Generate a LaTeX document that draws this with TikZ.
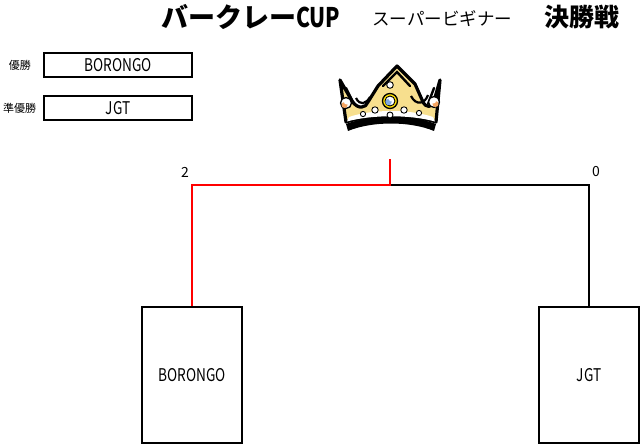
\documentclass[tikz,border=0pt]{standalone}
\usepackage{fontspec}
\setmainfont{Noto Sans CJK JP}
\newfontfamily\narrowfont[FakeStretch=0.78]{Noto Sans CJK JP}
\usepackage{graphicx}
\definecolor{crowngold}{HTML}{F7DF8E}
\definecolor{orbor}{HTML}{F4A460}
\definecolor{gemblue}{HTML}{7FA8E0}
\tikzset{
  teambox/.style={draw, line width=2pt, minimum width=100pt, minimum height=136pt, inner sep=0pt, font=\narrowfont\fontsize{17.5}{17.5}\selectfont},
  resbox/.style={draw, line width=1.6pt, minimum width=148pt, minimum height=24pt, inner sep=0pt, font=\narrowfont\fontsize{17.5}{17.5}\selectfont},
  reslabel/.style={font=\fontsize{11}{11}\selectfont, inner sep=0pt},
  bline/.style={line width=2pt},
  winline/.style={line width=2pt, red},
  score/.style={font=\fontsize{14}{14}\selectfont, inner sep=0pt},
  pearl/.style={fill=white, draw=black, line width=0.9pt}
}
\begin{document}
\begin{tikzpicture}[x=1pt,y=-1pt]
\useasboundingbox (0,0) rectangle (641,444);
% titles
\node[anchor=west, inner sep=0pt, font=\bfseries\fontsize{27}{27}\selectfont] (title) at (161,17) {バークレー{\narrowfont CUP}};
\node[anchor=west, inner sep=0pt, font=\fontsize{17.5}{17.5}\selectfont] (sub) at (372,19) {スーパービギナー};
\node[anchor=west, inner sep=0pt, font=\bfseries\fontsize{25}{25}\selectfont] (final) at (544,17) {決勝戦};
% results
\node[reslabel] (l1) at (20,65) {優勝};
\node[resbox] (r1) at (118,65) {BORONGO};
\node[reslabel] (l2) at (19.5,108) {準優勝};
\node[resbox] (r2) at (118,108) {JGT};
% teams
\node[teambox] (lbox) at (192,375) {BORONGO};
\node[teambox] (rbox) at (589,375) {JGT};
\coordinate (top) at (390,185);
\coordinate (stem) at (390,159);
\draw[bline] (rbox.north) |- (top);
\draw[winline] (lbox.north) |- (top) -- (stem);
\node[score] (s1) at (185,172) {2};
\node[score] (s2) at (596,172) {0};
% crown
\begin{scope}
\draw[line width=3.2pt, line join=round, fill=crowngold] (340,80) -- (352,101) .. controls (358,110) and (366,108) .. (368,102) -- (378,86) -- (397,66) -- (415,84) -- (423,102) .. controls (426,108) and (432,108) .. (434,101) -- (440,80) -- (436,122) .. controls (410,114) and (372,114) .. (346,122) -- cycle;
% inner black strokes along horns
\draw[line width=2.4pt, line cap=round] (346,88) -- (354,104);
\draw[line width=2.4pt, line cap=round] (434,88) -- (428,104);
\draw[line width=2.4pt, line cap=round] (383,86) -- (397,72) -- (410,86);
\fill[black] (346,124) .. controls (372,114) and (410,114) .. (436,124) -- (434,131) .. controls (410,121) and (372,121) .. (348,131) -- cycle;
\fill[white] (349,117) .. controls (372,109) and (410,109) .. (433,117) -- (435,121.5) .. controls (410,114.5) and (372,114.5) .. (347,121.5) -- cycle;
\draw[line width=2.2pt] (356,98) .. controls (360,106) and (366,104) .. (370,97);
\draw[line width=2.2pt] (411,96) .. controls (416,106) and (425,104) .. (428,95);
% orbs
\draw[fill=white, line width=1.3pt] (346,103) circle (5.5pt);
\fill[orbor] (344.5,105) circle (3pt);
\fill[white] (346.5,102) circle (2.5pt);
\draw[fill=white, line width=1.3pt] (434,102) circle (5.5pt);
\fill[orbor] (435.5,104) circle (3pt);
\fill[white] (433.5,101) circle (2.5pt);
% gem
\draw[fill=yellow!85!orange, line width=1.3pt] (390,101) circle (7.5pt);
\draw[fill=white, line width=0.9pt] (390,101) circle (5pt);
\fill[gemblue] (388.5,102) circle (3.2pt);
\fill[white] (390.5,99.5) circle (1.8pt);
% pearls
\draw[pearl] (390,85) circle (3.3pt);
\draw[pearl] (375,110) circle (3.2pt);
\draw[pearl] (404,110) circle (3.2pt);
\draw[pearl] (390,115) circle (3pt);
\draw[pearl] (363,114) circle (2.6pt);
\draw[pearl] (419,113) circle (2.6pt);
\end{scope}
\end{tikzpicture}
\end{document}
